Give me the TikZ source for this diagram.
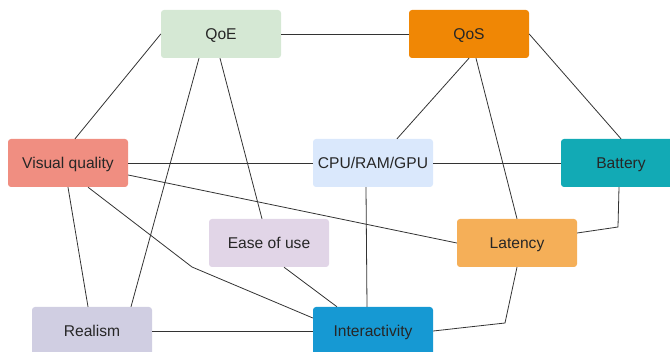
\documentclass[tikz,border=0pt]{standalone}
\usepackage{fontspec}
\setmainfont{Liberation Sans}
\begin{document}
\begin{tikzpicture}[x=1pt,y=-1pt,
  box/.style={rounded corners=3pt, minimum width=120pt, minimum height=48pt, inner sep=0pt, text height=15pt, text depth=3pt, text=black!85, font=\fontsize{15.6}{18}\selectfont},
  link/.style={draw=black!80, line width=0.8pt}]
\definecolor{cqoe}{HTML}{D5E8D4}
\definecolor{cqos}{HTML}{F08705}
\definecolor{cvq}{HTML}{F08E81}
\definecolor{ccpu}{HTML}{DAE8FC}
\definecolor{cbat}{HTML}{12AAB5}
\definecolor{cease}{HTML}{E1D5E7}
\definecolor{clat}{HTML}{F5AF58}
\definecolor{creal}{HTML}{D0CEE2}
\definecolor{cint}{HTML}{1699D3}
\clip (0,0) rectangle (670,352);
\useasboundingbox (0,0) rectangle (670,352);
\node[box, fill=cqoe] (qoe) at (221,34) {QoE};
\node[box, fill=cqos] (qos) at (469,34) {QoS};
\node[box, fill=cvq] (vq) at (68,163) {Visual quality};
\node[box, fill=ccpu] (cpu) at (373,163) {CPU/RAM/GPU};
\node[box, fill=cbat] (bat) at (621,163) {Battery};
\node[box, fill=cease] (ease) at (269,243) {Ease of use};
\node[box, fill=clat] (lat) at (517,243) {Latency};
\node[box, fill=creal] (real) at (92,331) {Realism};
\node[box, fill=cint] (inter) at (373,331) {Interactivity};
\coordinate (b1) at (192,267);
\coordinate (b2) at (505,323);
\coordinate (b3) at (618,227);
\draw[link] (qoe.west) -- ([xshift=7pt]vq.north);
\draw[link] (qoe.east) -- (qos.west);
\draw[link] ([xshift=-22pt]qoe.south) -- ([xshift=39pt]real.north);
\draw[link] ([xshift=-1pt]qoe.south) -- ([xshift=-7pt]ease.north);
\draw[link] (qos.south) -- ([xshift=24pt]cpu.north);
\draw[link] ([xshift=7pt]qos.south) -- (lat.north);
\draw[link] (qos.east) -- (bat.north);
\draw[link] (vq.east) -- (cpu.west);
\draw[link] (cpu.east) -- (bat.west);
\draw[link] ([yshift=-12pt]vq.east) -- (lat.west);
\draw[link] ([xshift=20pt]vq.south) -- (b1) -- ([yshift=13pt]inter.west);
\draw[link] (vq.south) -- ([xshift=-4pt]real.north);
\draw[link] ([xshift=15pt]ease.south) -- ([xshift=-36pt]inter.north);
\draw[link] (real.east) -- (inter.west);
\draw[link] ([xshift=-7pt]cpu.south) -- ([xshift=-6pt]inter.north);
\draw[link] (lat.south) -- (b2) -- (inter.east);
\draw[link] ([xshift=-2pt]bat.south) -- (b3) -- ([yshift=10pt]lat.east);
\end{tikzpicture}
\end{document}
